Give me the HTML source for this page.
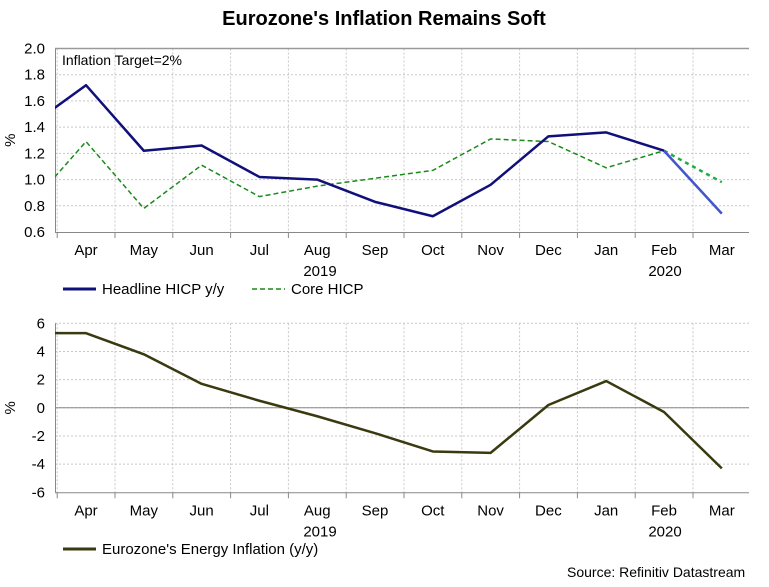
<!DOCTYPE html>
<html><head><meta charset="utf-8"><style>
body{margin:0;background:#fff;font-family:"Liberation Sans",Arial,sans-serif}
svg text{font-family:"Liberation Sans",Arial,sans-serif}
</style></head><body>
<svg id="c" width="769" height="582" xmlns="http://www.w3.org/2000/svg">
<defs>
<clipPath id="cp1"><rect x="55" y="40" width="694" height="200"/></clipPath>
<clipPath id="cp2"><rect x="55" y="315" width="694" height="185"/></clipPath>
</defs>
<text x="384" y="25" text-anchor="middle" font-size="20" font-weight="bold">Eurozone's Inflation Remains Soft</text>
<g id="top"></g><g id="bot"></g>
<text x="567" y="577" font-size="14">Source: Refinitiv Datastream</text>
</svg>
<script>
const months = ["Mar","Apr","May","Jun","Jul","Aug","Sep","Oct","Nov","Dec","Jan","Feb","Mar"];
const headline = [1.40,1.72,1.22,1.26,1.02,1.00,0.83,0.72,0.96,1.33,1.36,1.22,0.74];
const core = [0.79,1.29,0.78,1.11,0.87,0.95,1.01,1.07,1.31,1.29,1.09,1.22,0.98];
const energy = [5.3,5.3,3.8,1.7,0.5,-0.6,-1.8,-3.1,-3.2,0.2,1.9,-0.3,-4.3];
const topTicks = [0.6,0.8,1.0,1.2,1.4,1.6,1.8,2.0];
const botTicks = [-6,-4,-2,0,2,4,6];
const NS="http://www.w3.org/2000/svg";
function x(i){return 86+(i-1)*57.8;}
function mk(p,tag,a,txt){const e=document.createElementNS(NS,tag);for(const k in a)e.setAttribute(k,a[k]);if(txt!=null)e.textContent=txt;p.appendChild(e);return e;}
function panel(g,y0,y1,vmin,vmax,ticks,fmt,clip){
  const y=v=>y1-(v-vmin)/(vmax-vmin)*(y1-y0);
  for(const t of ticks){
    if(t!==vmin){const l=mk(g,'line',{x1:55,x2:749,y1:y(t),y2:y(t),stroke:'#c8c8c8','stroke-dasharray':'2,2'});
    
    }
    const tx=mk(g,'text',{x:45,y:y(t)+5,'text-anchor':'end','font-size':15},fmt(t));
    
    
  }
  for(let i=0;i<12;i++){
    const gx=x(i)+29;
    const l=mk(g,'line',{x1:gx,x2:gx,y1:y0,y2:y1,stroke:'#c8c8c8','stroke-dasharray':'2,2'});
    
    
    mk(g,'line',{x1:gx,x2:gx,y1:y1,y2:y1+6,stroke:'#888'});
  }
  for(let i=1;i<13;i++){
    const tx=mk(g,'text',{x:x(i),y:y1+23,'text-anchor':'middle','font-size':15},months[i]);
    
    
  }
  const y19=mk(g,'text',{x:320,y:y1+44,'text-anchor':'middle','font-size':15},'2019');
  
  
  const y20=mk(g,'text',{x:665,y:y1+44,'text-anchor':'middle','font-size':15},'2020');
  
  
  mk(g,'line',{x1:55.5,x2:55.5,y1:y0,y2:y1,stroke:'#888'});
  mk(g,'line',{x1:55,x2:749,y1:y1+0.5,y2:y1+0.5,stroke:'#888'});
  const ya=mk(g,'text',{x:15,y:(y0+y1)/2,'text-anchor':'middle','font-size':15,transform:`rotate(-90 15 ${(y0+y1)/2})`},'%');
  
  
  return y;
}
function line(g,vals,y,from,to,attrs,clip,name){
  let d='';for(let i=from;i<=to;i++)d+=(i===from?'M':'L')+x(i)+','+y(vals[i]);
  const p=mk(g,'path',Object.assign({d:d,fill:'none','clip-path':`url(#${clip})`,'stroke-linejoin':'round'},attrs));
  
  
}
const T=document.getElementById('top');
const yT=panel(T,48.5,232,0.6,2.0,topTicks,v=>v.toFixed(1));
mk(T,'line',{x1:55,x2:749,y1:48.5,y2:48.5,stroke:'#999','stroke-width':1.5});
const tl=mk(T,'text',{x:62,y:65,'font-size':14},'Inflation Target=2%');


line(T,core,yT,0,11,{stroke:'#1a8a1a','stroke-width':1.5,'stroke-dasharray':'5,3'},'cp1','core-hicp-line');
line(T,core,yT,11,12,{stroke:'#22aa44','stroke-width':2.5,'stroke-dasharray':'4,4'},'cp1','core-hicp-flash');
line(T,headline,yT,0,11,{stroke:'#10107a','stroke-width':2.5},'cp1','headline-hicp-line');
line(T,headline,yT,11,12,{stroke:'#4455cc','stroke-width':2.5},'cp1','headline-hicp-flash');
const lg1=mk(T,'g',{});


mk(lg1,'line',{x1:63,x2:96,y1:289,y2:289,stroke:'#10107a','stroke-width':3});
mk(lg1,'text',{x:102,y:294,'font-size':15},'Headline HICP y/y');
const lg2=mk(T,'g',{});


mk(lg2,'line',{x1:252,x2:285,y1:289,y2:289,stroke:'#1a8a1a','stroke-width':1.5,'stroke-dasharray':'5,3'});
mk(lg2,'text',{x:291,y:294,'font-size':15},'Core HICP');
const B=document.getElementById('bot');
const yB=panel(B,323.3,492.3,-6,6,botTicks,v=>String(v));
mk(B,'line',{x1:55,x2:749,y1:yB(0),y2:yB(0),stroke:'#888'});
line(B,energy,yB,0,12,{stroke:'#3a3a10','stroke-width':2.5},'cp2','energy-inflation-line');
const lg3=mk(B,'g',{});


mk(lg3,'line',{x1:63,x2:96,y1:549,y2:549,stroke:'#3a3a10','stroke-width':3});
mk(lg3,'text',{x:102,y:554,'font-size':15},"Eurozone's Energy Inflation (y/y)");
</script>
</body></html>
